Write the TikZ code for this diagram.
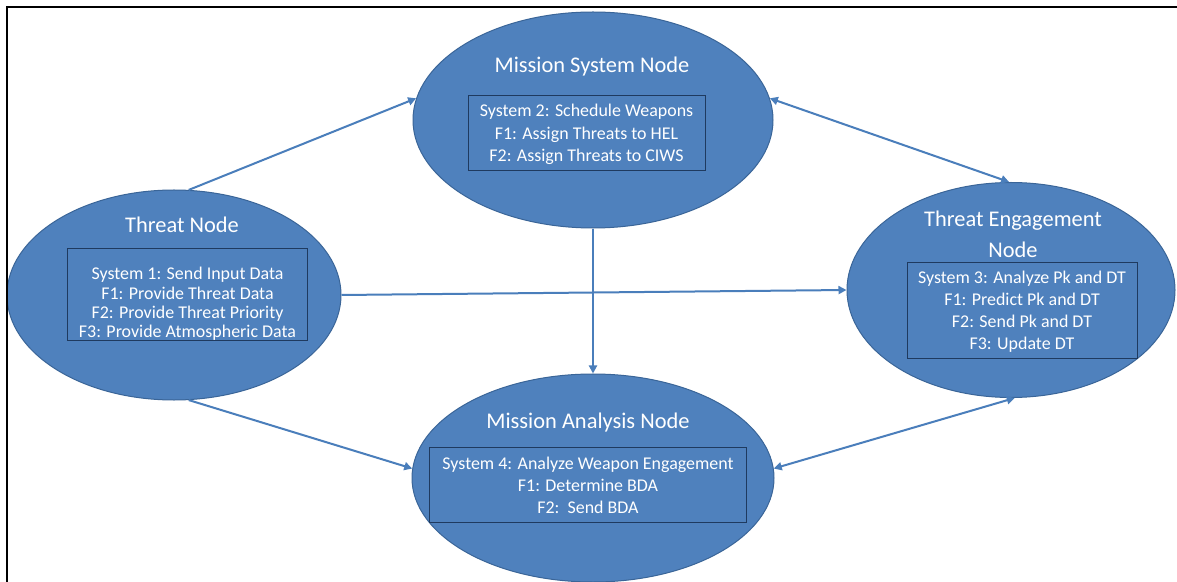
\documentclass[tikz,border=0pt]{standalone}
\usepackage{fontspec}
\setmainfont{Carlito}
\usetikzlibrary{arrows.meta,shapes.geometric}
\definecolor{nodeblue}{HTML}{4F81BD}
\definecolor{edgeblue}{HTML}{3A6598}
\definecolor{boxline}{HTML}{1F3A5F}
\definecolor{arrowblue}{HTML}{4A7EBB}
\tikzset{
  bigell/.style={ellipse, fill=nodeblue, draw=edgeblue, line width=1bp, inner sep=0pt},
  titletext/.style={text=white, font=\fontsize{22.5}{31}\selectfont, align=center, inner sep=0pt},
  infobox/.style={rectangle, fill=nodeblue, draw=boxline, line width=1bp, inner sep=0pt},
  infotext/.style={text=white, align=center, inner sep=0pt},
  conn/.style={draw=arrowblue, line width=2bp, -{Triangle[width=8bp,length=8bp]}},
  biconn/.style={draw=arrowblue, line width=2bp, {Triangle[width=8bp,length=8bp]}-{Triangle[width=8bp,length=8bp]}}
}
\begin{document}
\begin{tikzpicture}[x=1bp,y=-1bp]
\useasboundingbox (0,0) rectangle (1177,582);
\fill[white] (0,0) rectangle (1177,582);

% ellipses
\node[bigell, minimum width=334bp, minimum height=210bp] (threat) at (174,295) {};
\node[bigell, minimum width=360bp, minimum height=216bp] (ms) at (593,120) {};
\node[bigell, minimum width=328bp, minimum height=215bp] (te) at (1011,290) {};
\node[bigell, minimum width=362bp, minimum height=208bp] (ma) at (593,478) {};

% frame
\draw[line width=2.5bp] (7,582) -- (7,7) -- (1177,7);

% titles
\node[titletext] (threatt) at (182,225) {Threat Node};
\node[titletext] (mst) at (592,67) {Mission System Node};
\node[titletext] (tet) at (1013,234) {Threat Engagement\\Node};
\node[titletext] (mat) at (588,423) {Mission Analysis Node};

% info boxes
\node[infobox, minimum width=239bp, minimum height=91bp] (threatb) at (187.5,294.5) {};
\node[infotext, font=\fontsize{18}{19.5}\selectfont] (threatx) at (187.5,304)
  {System 1: Send Input Data\\F1: Provide Threat Data\\F2: Provide Threat Priority\\F3: Provide Atmospheric Data};
\node[infobox, minimum width=237bp, minimum height=75bp] (msb) at (586.5,133.5) {};
\node[infotext, font=\fontsize{18}{22.5}\selectfont] (msx) at (586.5,134.5)
  {System 2: Schedule Weapons\\F1: Assign Threats to HEL\\F2: Assign Threats to CIWS};
\node[infobox, minimum width=230bp, minimum height=95bp] (teb) at (1022,310.5) {};
\node[infotext, font=\fontsize{18}{22}\selectfont] (tex) at (1022,311.5)
  {System 3: Analyze Pk and DT\\F1: Predict Pk and DT\\F2: Send Pk and DT\\F3: Update DT};
\node[infobox, minimum width=317bp, minimum height=75bp] (mab) at (588,484.5) {};
\node[infotext, font=\fontsize{18}{22}\selectfont] (max) at (588,485)
  {System 4: Analyze Weapon Engagement\\F1: Determine BDA\\F2:\ \ Send BDA};

% connectors
\draw[conn] (threat.82) -- (ms.173);
\draw[biconn] (ms.7) -- (te.91);
\draw[conn] (threat.east) -- (te.west);
\draw[conn] (ms.south) -- (ma.north);
\draw[conn] (threat.-82) -- (ma.177);
\draw[biconn] (ma.3) -- (te.-88);
\end{tikzpicture}
\end{document}
